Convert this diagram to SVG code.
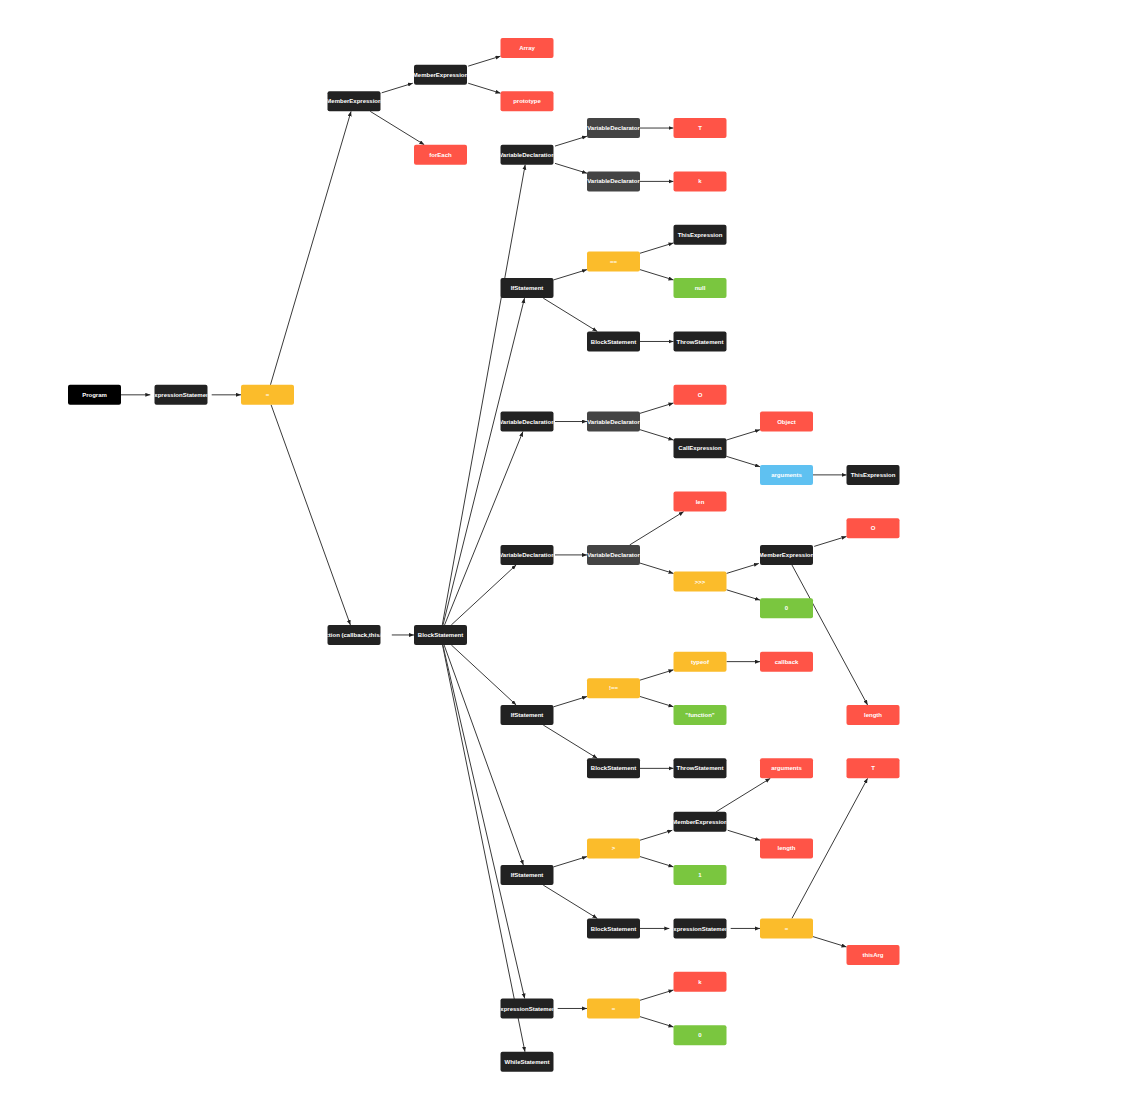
<svg xmlns="http://www.w3.org/2000/svg" width="1136" height="1112" viewBox="0 0 1136 1112">
<style>
.bg{fill:#fff}
.e{stroke:#3a3a3a;stroke-width:1;fill:none;marker-end:url(#ah)}
rect.nd{rx:2;ry:2}
.prg{fill:#000}
.blk{fill:#222}
.gry{fill:#444}
.red{fill:#ff5447}
.yel{fill:#fbbc2b}
.grn{fill:#7ac63f}
.blu{fill:#5fc1f1}
text{font-family:"Liberation Sans",Arial,Helvetica,sans-serif;font-size:6px;font-weight:bold;fill:#fff;text-anchor:middle}
</style>
<defs>
<marker id="ah" markerUnits="userSpaceOnUse" markerWidth="6" markerHeight="5" refX="5" refY="2" orient="auto">
<path d="M0,0 L5,2 L0,4 z" fill="#222"/>
</marker>
<clipPath id="c"><rect width="53" height="20"/></clipPath>
</defs>
<rect class="bg" width="1136" height="1112"/>
<g id="edges">
<line class="e" x1="121" y1="394.84" x2="150.3" y2="394.84"/>
<line class="e" x1="211.7" y1="394.84" x2="241" y2="394.84"/>
<line class="e" x1="270.45" y1="384.84" x2="351.05" y2="111.36"/>
<line class="e" x1="271.1" y1="404.84" x2="350.4" y2="624.96"/>
<line class="e" x1="381.7" y1="92.82" x2="412.8" y2="83.22"/>
<line class="e" x1="370.21" y1="111.36" x2="424.29" y2="144.72"/>
<line class="e" x1="468.2" y1="66.14" x2="500.5" y2="56.17"/>
<line class="e" x1="468.2" y1="83.22" x2="500.5" y2="93.19"/>
<line class="e" x1="391.8" y1="634.96" x2="414" y2="634.96"/>
<line class="e" x1="442.3" y1="624.96" x2="525.2" y2="164.72"/>
<line class="e" x1="442.99" y1="624.96" x2="524.51" y2="298.12"/>
<line class="e" x1="444.55" y1="624.96" x2="522.95" y2="431.52"/>
<line class="e" x1="451.31" y1="624.96" x2="516.19" y2="564.92"/>
<line class="e" x1="451.31" y1="644.96" x2="516.19" y2="705"/>
<line class="e" x1="444.1" y1="644.96" x2="523.4" y2="865.08"/>
<line class="e" x1="442.82" y1="644.96" x2="524.68" y2="998.48"/>
<line class="e" x1="442.53" y1="644.96" x2="524.97" y2="1051.84"/>
<line class="e" x1="555" y1="146.08" x2="587" y2="136.21"/>
<line class="e" x1="555" y1="163.36" x2="587" y2="173.23"/>
<line class="e" x1="640" y1="128.04" x2="673.5" y2="128.04"/>
<line class="e" x1="640" y1="181.4" x2="673.5" y2="181.4"/>
<line class="e" x1="553.5" y1="279.95" x2="587" y2="269.61"/>
<line class="e" x1="543.21" y1="298.12" x2="597.29" y2="331.48"/>
<line class="e" x1="640" y1="253.27" x2="673.5" y2="242.93"/>
<line class="e" x1="640" y1="269.61" x2="673.5" y2="279.95"/>
<line class="e" x1="640" y1="341.48" x2="673.5" y2="341.48"/>
<line class="e" x1="555" y1="421.52" x2="587" y2="421.52"/>
<line class="e" x1="640" y1="413.35" x2="673.5" y2="403.01"/>
<line class="e" x1="640" y1="429.69" x2="673.5" y2="440.03"/>
<line class="e" x1="726.5" y1="440.03" x2="760" y2="429.69"/>
<line class="e" x1="726.5" y1="456.37" x2="760" y2="466.71"/>
<line class="e" x1="813" y1="474.88" x2="846.5" y2="474.88"/>
<line class="e" x1="555" y1="554.92" x2="587" y2="554.92"/>
<line class="e" x1="629.71" y1="544.92" x2="683.79" y2="511.56"/>
<line class="e" x1="640" y1="563.09" x2="673.5" y2="573.43"/>
<line class="e" x1="726.5" y1="573.43" x2="758.8" y2="563.46"/>
<line class="e" x1="726.5" y1="589.77" x2="760" y2="600.11"/>
<line class="e" x1="814.2" y1="546.38" x2="846.5" y2="536.41"/>
<line class="e" x1="791.91" y1="564.92" x2="867.59" y2="705"/>
<line class="e" x1="553.5" y1="706.83" x2="587" y2="696.49"/>
<line class="e" x1="543.21" y1="725" x2="597.29" y2="758.36"/>
<line class="e" x1="640" y1="680.15" x2="673.5" y2="669.81"/>
<line class="e" x1="640" y1="696.49" x2="673.5" y2="706.83"/>
<line class="e" x1="726.5" y1="661.64" x2="760" y2="661.64"/>
<line class="e" x1="640" y1="768.36" x2="673.5" y2="768.36"/>
<line class="e" x1="553.5" y1="866.91" x2="587" y2="856.57"/>
<line class="e" x1="543.21" y1="885.08" x2="597.29" y2="918.44"/>
<line class="e" x1="640" y1="840.23" x2="672.3" y2="830.26"/>
<line class="e" x1="640" y1="856.57" x2="673.5" y2="866.91"/>
<line class="e" x1="716.21" y1="811.72" x2="770.29" y2="778.36"/>
<line class="e" x1="727.7" y1="830.26" x2="760" y2="840.23"/>
<line class="e" x1="640" y1="928.44" x2="669.3" y2="928.44"/>
<line class="e" x1="730.7" y1="928.44" x2="760" y2="928.44"/>
<line class="e" x1="791.91" y1="918.44" x2="867.59" y2="778.36"/>
<line class="e" x1="813" y1="936.61" x2="846.5" y2="946.95"/>
<line class="e" x1="557.7" y1="1008.48" x2="587" y2="1008.48"/>
<line class="e" x1="640" y1="1000.31" x2="673.5" y2="989.97"/>
<line class="e" x1="640" y1="1016.65" x2="673.5" y2="1026.99"/>
</g>
<g id="n-program" transform="translate(68,384.84)"><rect class="nd prg" width="53" height="20"/><text x="26.5" y="12.1" clip-path="url(#c)">Program</text></g>
<g id="n-es1" transform="translate(154.5,384.84)"><rect class="nd blk" width="53" height="20"/><text x="26.5" y="12.1" clip-path="url(#c)">ExpressionStatement</text></g>
<g id="n-assign1" transform="translate(241,384.84)"><rect class="nd yel" width="53" height="20"/><text x="26.5" y="12.1" clip-path="url(#c)">=</text></g>
<g id="n-me1" transform="translate(327.5,91.36)"><rect class="nd blk" width="53" height="20"/><text x="26.5" y="12.1" clip-path="url(#c)">MemberExpression</text></g>
<g id="n-fe" transform="translate(327.5,624.96)"><rect class="nd blk" width="53" height="20"/><text x="26.5" y="12.1" clip-path="url(#c)">function (callback,thisArg)</text></g>
<g id="n-me2" transform="translate(414,64.68)"><rect class="nd blk" width="53" height="20"/><text x="26.5" y="12.1" clip-path="url(#c)">MemberExpression</text></g>
<g id="n-foreach" transform="translate(414,144.72)"><rect class="nd red" width="53" height="20"/><text x="26.5" y="12.1" clip-path="url(#c)">forEach</text></g>
<g id="n-bs1" transform="translate(414,624.96)"><rect class="nd blk" width="53" height="20"/><text x="26.5" y="12.1" clip-path="url(#c)">BlockStatement</text></g>
<g id="n-array" transform="translate(500.5,38)"><rect class="nd red" width="53" height="20"/><text x="26.5" y="12.1" clip-path="url(#c)">Array</text></g>
<g id="n-prototype" transform="translate(500.5,91.36)"><rect class="nd red" width="53" height="20"/><text x="26.5" y="12.1" clip-path="url(#c)">prototype</text></g>
<g id="n-vdn1" transform="translate(500.5,144.72)"><rect class="nd blk" width="53" height="20"/><text x="26.5" y="12.1" clip-path="url(#c)">VariableDeclaration</text></g>
<g id="n-if1" transform="translate(500.5,278.12)"><rect class="nd blk" width="53" height="20"/><text x="26.5" y="12.1" clip-path="url(#c)">IfStatement</text></g>
<g id="n-vdn2" transform="translate(500.5,411.52)"><rect class="nd blk" width="53" height="20"/><text x="26.5" y="12.1" clip-path="url(#c)">VariableDeclaration</text></g>
<g id="n-vdn3" transform="translate(500.5,544.92)"><rect class="nd blk" width="53" height="20"/><text x="26.5" y="12.1" clip-path="url(#c)">VariableDeclaration</text></g>
<g id="n-if2" transform="translate(500.5,705)"><rect class="nd blk" width="53" height="20"/><text x="26.5" y="12.1" clip-path="url(#c)">IfStatement</text></g>
<g id="n-if3" transform="translate(500.5,865.08)"><rect class="nd blk" width="53" height="20"/><text x="26.5" y="12.1" clip-path="url(#c)">IfStatement</text></g>
<g id="n-es2" transform="translate(500.5,998.48)"><rect class="nd blk" width="53" height="20"/><text x="26.5" y="12.1" clip-path="url(#c)">ExpressionStatement</text></g>
<g id="n-while" transform="translate(500.5,1051.84)"><rect class="nd blk" width="53" height="20"/><text x="26.5" y="12.1" clip-path="url(#c)">WhileStatement</text></g>
<g id="n-vdr1" transform="translate(587,118.04)"><rect class="nd gry" width="53" height="20"/><text x="26.5" y="12.1" clip-path="url(#c)">VariableDeclarator</text></g>
<g id="n-vdr2" transform="translate(587,171.4)"><rect class="nd gry" width="53" height="20"/><text x="26.5" y="12.1" clip-path="url(#c)">VariableDeclarator</text></g>
<g id="n-eqeq" transform="translate(587,251.44)"><rect class="nd yel" width="53" height="20"/><text x="26.5" y="12.1" clip-path="url(#c)">==</text></g>
<g id="n-bs2" transform="translate(587,331.48)"><rect class="nd blk" width="53" height="20"/><text x="26.5" y="12.1" clip-path="url(#c)">BlockStatement</text></g>
<g id="n-vdr3" transform="translate(587,411.52)"><rect class="nd gry" width="53" height="20"/><text x="26.5" y="12.1" clip-path="url(#c)">VariableDeclarator</text></g>
<g id="n-vdr4" transform="translate(587,544.92)"><rect class="nd gry" width="53" height="20"/><text x="26.5" y="12.1" clip-path="url(#c)">VariableDeclarator</text></g>
<g id="n-neq" transform="translate(587,678.32)"><rect class="nd yel" width="53" height="20"/><text x="26.5" y="12.1" clip-path="url(#c)">!==</text></g>
<g id="n-bs3" transform="translate(587,758.36)"><rect class="nd blk" width="53" height="20"/><text x="26.5" y="12.1" clip-path="url(#c)">BlockStatement</text></g>
<g id="n-gt" transform="translate(587,838.4)"><rect class="nd yel" width="53" height="20"/><text x="26.5" y="12.1" clip-path="url(#c)">&gt;</text></g>
<g id="n-bs4" transform="translate(587,918.44)"><rect class="nd blk" width="53" height="20"/><text x="26.5" y="12.1" clip-path="url(#c)">BlockStatement</text></g>
<g id="n-assign2" transform="translate(587,998.48)"><rect class="nd yel" width="53" height="20"/><text x="26.5" y="12.1" clip-path="url(#c)">=</text></g>
<g id="n-T1" transform="translate(673.5,118.04)"><rect class="nd red" width="53" height="20"/><text x="26.5" y="12.1" clip-path="url(#c)">T</text></g>
<g id="n-k1" transform="translate(673.5,171.4)"><rect class="nd red" width="53" height="20"/><text x="26.5" y="12.1" clip-path="url(#c)">k</text></g>
<g id="n-this1" transform="translate(673.5,224.76)"><rect class="nd blk" width="53" height="20"/><text x="26.5" y="12.1" clip-path="url(#c)">ThisExpression</text></g>
<g id="n-null" transform="translate(673.5,278.12)"><rect class="nd grn" width="53" height="20"/><text x="26.5" y="12.1" clip-path="url(#c)">null</text></g>
<g id="n-throw1" transform="translate(673.5,331.48)"><rect class="nd blk" width="53" height="20"/><text x="26.5" y="12.1" clip-path="url(#c)">ThrowStatement</text></g>
<g id="n-O1" transform="translate(673.5,384.84)"><rect class="nd red" width="53" height="20"/><text x="26.5" y="12.1" clip-path="url(#c)">O</text></g>
<g id="n-call" transform="translate(673.5,438.2)"><rect class="nd blk" width="53" height="20"/><text x="26.5" y="12.1" clip-path="url(#c)">CallExpression</text></g>
<g id="n-len" transform="translate(673.5,491.56)"><rect class="nd red" width="53" height="20"/><text x="26.5" y="12.1" clip-path="url(#c)">len</text></g>
<g id="n-ushr" transform="translate(673.5,571.6)"><rect class="nd yel" width="53" height="20"/><text x="26.5" y="12.1" clip-path="url(#c)">&gt;&gt;&gt;</text></g>
<g id="n-typeof" transform="translate(673.5,651.64)"><rect class="nd yel" width="53" height="20"/><text x="26.5" y="12.1" clip-path="url(#c)">typeof</text></g>
<g id="n-function" transform="translate(673.5,705)"><rect class="nd grn" width="53" height="20"/><text x="26.5" y="12.1" clip-path="url(#c)">"function"</text></g>
<g id="n-throw2" transform="translate(673.5,758.36)"><rect class="nd blk" width="53" height="20"/><text x="26.5" y="12.1" clip-path="url(#c)">ThrowStatement</text></g>
<g id="n-me3" transform="translate(673.5,811.72)"><rect class="nd blk" width="53" height="20"/><text x="26.5" y="12.1" clip-path="url(#c)">MemberExpression</text></g>
<g id="n-one" transform="translate(673.5,865.08)"><rect class="nd grn" width="53" height="20"/><text x="26.5" y="12.1" clip-path="url(#c)">1</text></g>
<g id="n-es3" transform="translate(673.5,918.44)"><rect class="nd blk" width="53" height="20"/><text x="26.5" y="12.1" clip-path="url(#c)">ExpressionStatement</text></g>
<g id="n-k2" transform="translate(673.5,971.8)"><rect class="nd red" width="53" height="20"/><text x="26.5" y="12.1" clip-path="url(#c)">k</text></g>
<g id="n-zero1" transform="translate(673.5,1025.16)"><rect class="nd grn" width="53" height="20"/><text x="26.5" y="12.1" clip-path="url(#c)">0</text></g>
<g id="n-object" transform="translate(760,411.52)"><rect class="nd red" width="53" height="20"/><text x="26.5" y="12.1" clip-path="url(#c)">Object</text></g>
<g id="n-args1" transform="translate(760,464.88)"><rect class="nd blu" width="53" height="20"/><text x="26.5" y="12.1" clip-path="url(#c)">arguments</text></g>
<g id="n-me4" transform="translate(760,544.92)"><rect class="nd blk" width="53" height="20"/><text x="26.5" y="12.1" clip-path="url(#c)">MemberExpression</text></g>
<g id="n-zero2" transform="translate(760,598.28)"><rect class="nd grn" width="53" height="20"/><text x="26.5" y="12.1" clip-path="url(#c)">0</text></g>
<g id="n-callback" transform="translate(760,651.64)"><rect class="nd red" width="53" height="20"/><text x="26.5" y="12.1" clip-path="url(#c)">callback</text></g>
<g id="n-args2" transform="translate(760,758.36)"><rect class="nd red" width="53" height="20"/><text x="26.5" y="12.1" clip-path="url(#c)">arguments</text></g>
<g id="n-length1" transform="translate(760,838.4)"><rect class="nd red" width="53" height="20"/><text x="26.5" y="12.1" clip-path="url(#c)">length</text></g>
<g id="n-assign3" transform="translate(760,918.44)"><rect class="nd yel" width="53" height="20"/><text x="26.5" y="12.1" clip-path="url(#c)">=</text></g>
<g id="n-this2" transform="translate(846.5,464.88)"><rect class="nd blk" width="53" height="20"/><text x="26.5" y="12.1" clip-path="url(#c)">ThisExpression</text></g>
<g id="n-O2" transform="translate(846.5,518.24)"><rect class="nd red" width="53" height="20"/><text x="26.5" y="12.1" clip-path="url(#c)">O</text></g>
<g id="n-length2" transform="translate(846.5,705)"><rect class="nd red" width="53" height="20"/><text x="26.5" y="12.1" clip-path="url(#c)">length</text></g>
<g id="n-T2" transform="translate(846.5,758.36)"><rect class="nd red" width="53" height="20"/><text x="26.5" y="12.1" clip-path="url(#c)">T</text></g>
<g id="n-thisarg" transform="translate(846.5,945.12)"><rect class="nd red" width="53" height="20"/><text x="26.5" y="12.1" clip-path="url(#c)">thisArg</text></g>
</svg>
